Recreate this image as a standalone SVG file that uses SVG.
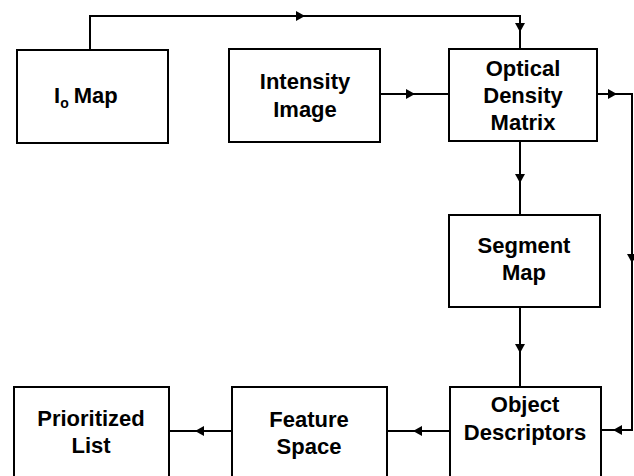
<svg xmlns="http://www.w3.org/2000/svg" width="634" height="476" viewBox="0 0 634 476">
<style>
.box{fill:#fff;stroke:#000;stroke-width:2}
.lbl{font-family:"Liberation Sans",Arial,sans-serif;font-weight:bold;font-size:22px;fill:#000;text-anchor:middle}
.con{fill:none;stroke:#000;stroke-width:2}
</style>
<defs>
<polygon id="ah" points="0,0 -9,-5 -9,5" fill="#000"/>
</defs>
<rect width="634" height="476" fill="#fff"/>
<g id="connectors">
<path class="con" d="M90,50 V16 H520 V49"/>
<path class="con" d="M380,94 H449"/>
<path class="con" d="M597,94 H632 V430 H601"/>
<path class="con" d="M520,141 V215"/>
<path class="con" d="M520,307 V387"/>
<path class="con" d="M450,431 H387"/>
<path class="con" d="M232,431 H169"/>
<use href="#ah" transform="translate(305,16)"/>
<use href="#ah" transform="translate(520,32) rotate(90)"/>
<use href="#ah" transform="translate(415,94)"/>
<use href="#ah" transform="translate(617,94)"/>
<use href="#ah" transform="translate(632,263) rotate(90)"/>
<use href="#ah" transform="translate(613,430) rotate(180)"/>
<use href="#ah" transform="translate(520,183) rotate(90)"/>
<use href="#ah" transform="translate(520,353) rotate(90)"/>
<use href="#ah" transform="translate(413,431) rotate(180)"/>
<use href="#ah" transform="translate(195,431) rotate(180)"/>
</g>
<g id="io-map">
<rect class="box" x="17" y="50" width="151" height="93"/>
<text class="lbl" x="54" y="103" style="text-anchor:start">I<tspan font-size="14" dy="5">o</tspan><tspan dy="-5" dx="5">Map</tspan></text>
</g>
<g id="intensity-image">
<rect class="box" x="229" y="49" width="151" height="93"/>
<text class="lbl" x="305" y="89">Intensity</text>
<text class="lbl" x="305" y="117">Image</text>
</g>
<g id="optical-density-matrix">
<rect class="box" x="449" y="49" width="148" height="92"/>
<text class="lbl" x="523" y="76">Optical</text>
<text class="lbl" x="523" y="103">Density</text>
<text class="lbl" x="523" y="130">Matrix</text>
</g>
<g id="segment-map">
<rect class="box" x="449" y="215" width="151" height="92"/>
<text class="lbl" x="524" y="253">Segment</text>
<text class="lbl" x="524" y="280">Map</text>
</g>
<g id="object-descriptors">
<rect class="box" x="450" y="387" width="151" height="100"/>
<text class="lbl" x="525" y="412">Object</text>
<text class="lbl" x="525" y="440">Descriptors</text>
</g>
<g id="feature-space">
<rect class="box" x="232" y="387" width="155" height="100"/>
<text class="lbl" x="309" y="427">Feature</text>
<text class="lbl" x="309" y="454">Space</text>
</g>
<g id="prioritized-list">
<rect class="box" x="14" y="387" width="155" height="100"/>
<text class="lbl" x="91" y="426">Prioritized</text>
<text class="lbl" x="91" y="453">List</text>
</g>
</svg>
